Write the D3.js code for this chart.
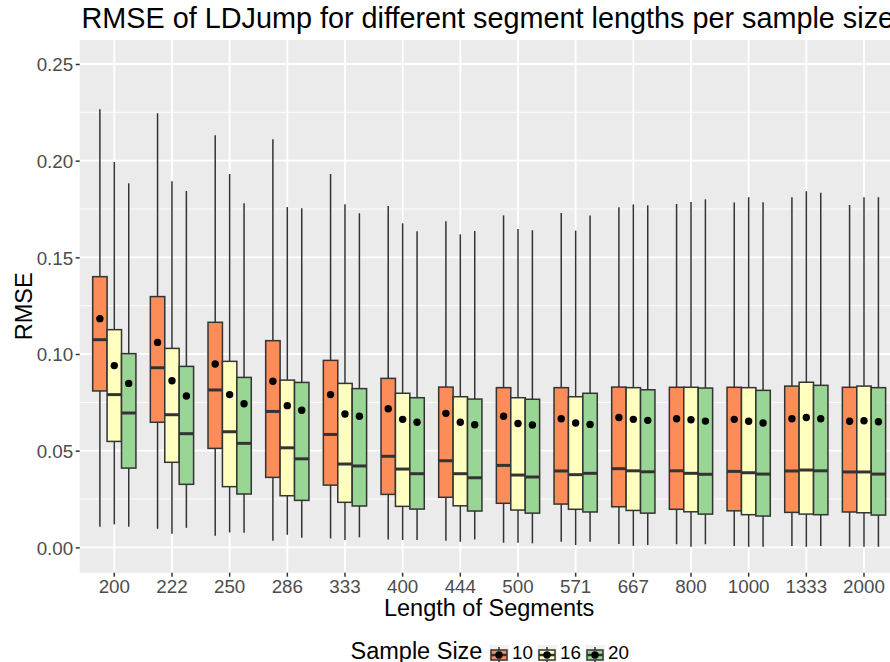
<!DOCTYPE html>
<html>
<head>
<meta charset="utf-8">
<script src="https://cdn.jsdelivr.net/npm/d3@7"></script>
<style>
  body { margin: 0; background: #fff; }
  svg { display: block; font-family: "Liberation Sans", Arial, Helvetica, sans-serif; }
  .gridline-major { stroke: #fff; stroke-width: 1.8; }
  .gridline-minor { stroke: #fff; stroke-width: 0.9; }
  .axis path { display: none; }
  .axis line { stroke: #333; stroke-width: 1.5; }
  .axis text { fill: #4d4d4d; font-size: 18.8px; }
</style>
</head>
<body>
<div class="chart"></div>
<script>
// segment lengths (x categories) and sample sizes (fill groups)
const segLengths = ["200","222","250","286","333","400","444","500","571","667","800","1000","1333","2000"];
const sampleSizes = ["10","16","20"];
const yTicks = [0, 0.05, 0.10, 0.15, 0.20, 0.25];

// sample size 10
const max10  = [0.2266,0.2245,0.2131,0.2111,0.1931,0.1766,0.1686,0.1717,0.1729,0.1759,0.1776,0.1783,0.1811,0.1771];
const q3_10  = [0.1400,0.1297,0.1164,0.1069,0.0967,0.0874,0.0829,0.0826,0.0826,0.0829,0.0828,0.0828,0.0834,0.0828];
const med10  = [0.1074,0.0929,0.0814,0.0703,0.0584,0.0471,0.0448,0.0424,0.0395,0.0407,0.0396,0.0393,0.0395,0.0390];
const q1_10  = [0.0809,0.0647,0.0512,0.0362,0.0322,0.0274,0.0259,0.0228,0.0224,0.0210,0.0197,0.0189,0.0181,0.0183];
const min10  = [0.0107,0.0096,0.0060,0.0034,0.0046,0.0041,0.0034,0.0024,0.0029,0.0017,0.0016,0.0007,0.0007,0.0003];
const mean10 = [0.1183,0.1060,0.0948,0.0859,0.0790,0.0717,0.0693,0.0678,0.0665,0.0672,0.0665,0.0662,0.0665,0.0652];

// sample size 16
const max16  = [0.1993,0.1893,0.1931,0.1760,0.1774,0.1676,0.1619,0.1647,0.1638,0.1774,0.1786,0.1811,0.1842,0.1811];
const q3_16  = [0.1126,0.1029,0.0962,0.0865,0.0848,0.0797,0.0779,0.0774,0.0779,0.0826,0.0828,0.0826,0.0854,0.0834];
const med16  = [0.0790,0.0686,0.0598,0.0515,0.0431,0.0405,0.0381,0.0374,0.0376,0.0396,0.0383,0.0386,0.0400,0.0390];
const q1_16  = [0.0548,0.0440,0.0314,0.0267,0.0233,0.0212,0.0215,0.0193,0.0197,0.0191,0.0184,0.0169,0.0172,0.0179];
const min16  = [0.0119,0.0070,0.0077,0.0065,0.0038,0.0038,0.0029,0.0024,0.0012,0.0008,0.0003,0.0003,0.0003,0.0003];
const mean16 = [0.0940,0.0862,0.0790,0.0733,0.0690,0.0662,0.0647,0.0641,0.0643,0.0662,0.0660,0.0652,0.0672,0.0655];

// sample size 20
const max20  = [0.1883,0.1843,0.1780,0.1754,0.1728,0.1635,0.1636,0.1640,0.1717,0.1769,0.1800,0.1785,0.1834,0.1811];
const q3_20  = [0.1002,0.0936,0.0879,0.0853,0.0821,0.0774,0.0767,0.0766,0.0797,0.0815,0.0824,0.0812,0.0838,0.0826];
const med20  = [0.0695,0.0588,0.0538,0.0458,0.0421,0.0381,0.0360,0.0364,0.0383,0.0391,0.0378,0.0379,0.0396,0.0379];
const q1_20  = [0.0410,0.0326,0.0276,0.0243,0.0214,0.0198,0.0188,0.0177,0.0183,0.0177,0.0172,0.0162,0.0169,0.0167];
const min20  = [0.0107,0.0101,0.0076,0.0050,0.0052,0.0038,0.0041,0.0021,0.0029,0.0012,0.0016,0.0003,0.0007,0.0003];
const mean20 = [0.0848,0.0783,0.0743,0.0709,0.0678,0.0647,0.0634,0.0633,0.0636,0.0657,0.0653,0.0643,0.0665,0.0650];

const stats = {
  "10": [min10, q1_10, med10, q3_10, max10, mean10],
  "16": [min16, q1_16, med16, q3_16, max16, mean16],
  "20": [min20, q1_20, med20, q3_20, max20, mean20]
};

// one row per box
const boxes = [];
sampleSizes.forEach(function(s) {
  const a = stats[s];
  segLengths.forEach(function(seg, i) {
    boxes.push({ seg: seg, size: s, min: a[0][i], q1: a[1][i], med: a[2][i], q3: a[3][i], max: a[4][i], mean: a[5][i] });
  });
});

const w = 890, h = 662;
// panel edges (right side runs past the picture, as in the original)
const panel = { left: 79.7, right: 898.6, top: 40, bottom: 572.7 };

const svg = d3.select(".chart").append("svg")
  .attr("width", w)
  .attr("height", h);

const x = d3.scaleBand()
  .domain(segLengths)
  .range([panel.left, panel.right])
  .paddingInner(0.25)
  .paddingOuter(0.225);

const xInner = d3.scaleBand()
  .domain(sampleSizes)
  .range([0, x.bandwidth()]);

const y = d3.scaleLinear()
  .domain([-0.0131, 0.2624])
  .range([panel.bottom, panel.top]);

const fill = d3.scaleOrdinal()
  .domain(sampleSizes)
  .range(["#fc8d59", "#ffffbf", "#99d594"]);

// panel background
svg.append("rect")
  .attr("x", panel.left)
  .attr("y", panel.top)
  .attr("width", panel.right - panel.left)
  .attr("height", panel.bottom - panel.top)
  .attr("fill", "#ebebeb");

// minor gridlines
const minorTicks = yTicks.slice(0, -1).map(function(t) { return t + 0.025; });
svg.append("g").selectAll("line")
  .data(minorTicks)
  .enter().append("line")
  .classed("gridline-minor", true)
  .attr("x1", panel.left).attr("x2", panel.right)
  .attr("y1", function(d) { return y(d); })
  .attr("y2", function(d) { return y(d); });

// major gridlines
svg.append("g").selectAll("line")
  .data(yTicks)
  .enter().append("line")
  .classed("gridline-major", true)
  .attr("x1", panel.left).attr("x2", panel.right)
  .attr("y1", function(d) { return y(d); })
  .attr("y2", function(d) { return y(d); });

svg.append("g").selectAll("line")
  .data(segLengths)
  .enter().append("line")
  .classed("gridline-major", true)
  .attr("x1", function(d) { return x(d) + x.bandwidth() / 2; })
  .attr("x2", function(d) { return x(d) + x.bandwidth() / 2; })
  .attr("y1", panel.top).attr("y2", panel.bottom);

// boxes
const cx = function(d) { return x(d.seg) + xInner(d.size) + xInner.bandwidth() / 2; };
const bw = xInner.bandwidth();

const g = svg.append("g").selectAll(".box")
  .data(boxes)
  .enter().append("g")
  .classed("box", true);

g.append("line")
  .attr("x1", cx).attr("x2", cx)
  .attr("y1", function(d) { return y(d.max); })
  .attr("y2", function(d) { return y(d.q3); })
  .attr("stroke", "#333").attr("stroke-width", 1.5);

g.append("line")
  .attr("x1", cx).attr("x2", cx)
  .attr("y1", function(d) { return y(d.q1); })
  .attr("y2", function(d) { return y(d.min); })
  .attr("stroke", "#333").attr("stroke-width", 1.5);

g.append("rect")
  .attr("x", function(d) { return cx(d) - bw / 2; })
  .attr("y", function(d) { return y(d.q3); })
  .attr("width", bw)
  .attr("height", function(d) { return y(d.q1) - y(d.q3); })
  .attr("fill", function(d) { return fill(d.size); })
  .attr("stroke", "#333")
  .attr("stroke-width", 1.5);

g.append("line")
  .attr("x1", function(d) { return cx(d) - bw / 2; })
  .attr("x2", function(d) { return cx(d) + bw / 2; })
  .attr("y1", function(d) { return y(d.med); })
  .attr("y2", function(d) { return y(d.med); })
  .attr("stroke", "#333").attr("stroke-width", 3);

// means
svg.append("g").selectAll("circle")
  .data(boxes)
  .enter().append("circle")
  .attr("cx", cx)
  .attr("cy", function(d) { return y(d.mean); })
  .attr("r", 3.7)
  .attr("fill", "#000");

// axes
svg.append("g")
  .classed("y axis", true)
  .attr("transform", "translate(" + panel.left + ",0)")
  .call(d3.axisLeft(y).tickValues(yTicks).tickFormat(d3.format(".2f")).tickSize(4).tickPadding(2.5))
  .selectAll("text").attr("dy", "0.36em");

svg.append("g")
  .classed("x axis", true)
  .attr("transform", "translate(0," + panel.bottom + ")")
  .call(d3.axisBottom(x).tickSize(4).tickPadding(2.6));

// titles
svg.append("text")
  .attr("x", 81.5)
  .attr("y", 27.8)
  .style("font-size", "28.8px")
  .text("RMSE of LDJump for different segment lengths per sample size");

svg.append("text")
  .attr("x", (panel.left + panel.right) / 2)
  .attr("y", 615.8)
  .style("text-anchor", "middle")
  .style("font-size", "23.5px")
  .text("Length of Segments");

svg.append("text")
  .attr("transform", "translate(31.5," + (panel.top + panel.bottom) / 2 + ") rotate(-90)")
  .style("text-anchor", "middle")
  .style("font-size", "23.5px")
  .text("RMSE");

// legend
const legend = svg.append("g").attr("transform", "translate(0,645)");
legend.append("text")
  .attr("x", 350.5)
  .attr("y", 13.5)
  .style("font-size", "23.5px")
  .text("Sample Size");

const keyX = [489, 537, 585];
const key = legend.selectAll(".key")
  .data(sampleSizes)
  .enter().append("g")
  .classed("key", true)
  .attr("transform", function(d, i) { return "translate(" + keyX[i] + ",0)"; });

key.append("rect").attr("width", 20).attr("height", 20).attr("fill", "#f2f2f2");
key.append("line").attr("x1", 10).attr("x2", 10).attr("y1", 2).attr("y2", 18)
  .attr("stroke", "#333").attr("stroke-width", 1.5);
key.append("rect").attr("x", 2).attr("y", 5).attr("width", 16).attr("height", 10)
  .attr("fill", function(d) { return fill(d); })
  .attr("stroke", "#333").attr("stroke-width", 1.5);
key.append("line").attr("x1", 2).attr("x2", 18).attr("y1", 10).attr("y2", 10)
  .attr("stroke", "#333").attr("stroke-width", 2.5);
key.append("circle").attr("cx", 10).attr("cy", 10).attr("r", 3.7).attr("fill", "#000");
key.append("text")
  .attr("x", 23)
  .attr("y", 14.2)
  .style("font-size", "18.8px")
  .text(function(d) { return d; });
</script>
</body>
</html>
